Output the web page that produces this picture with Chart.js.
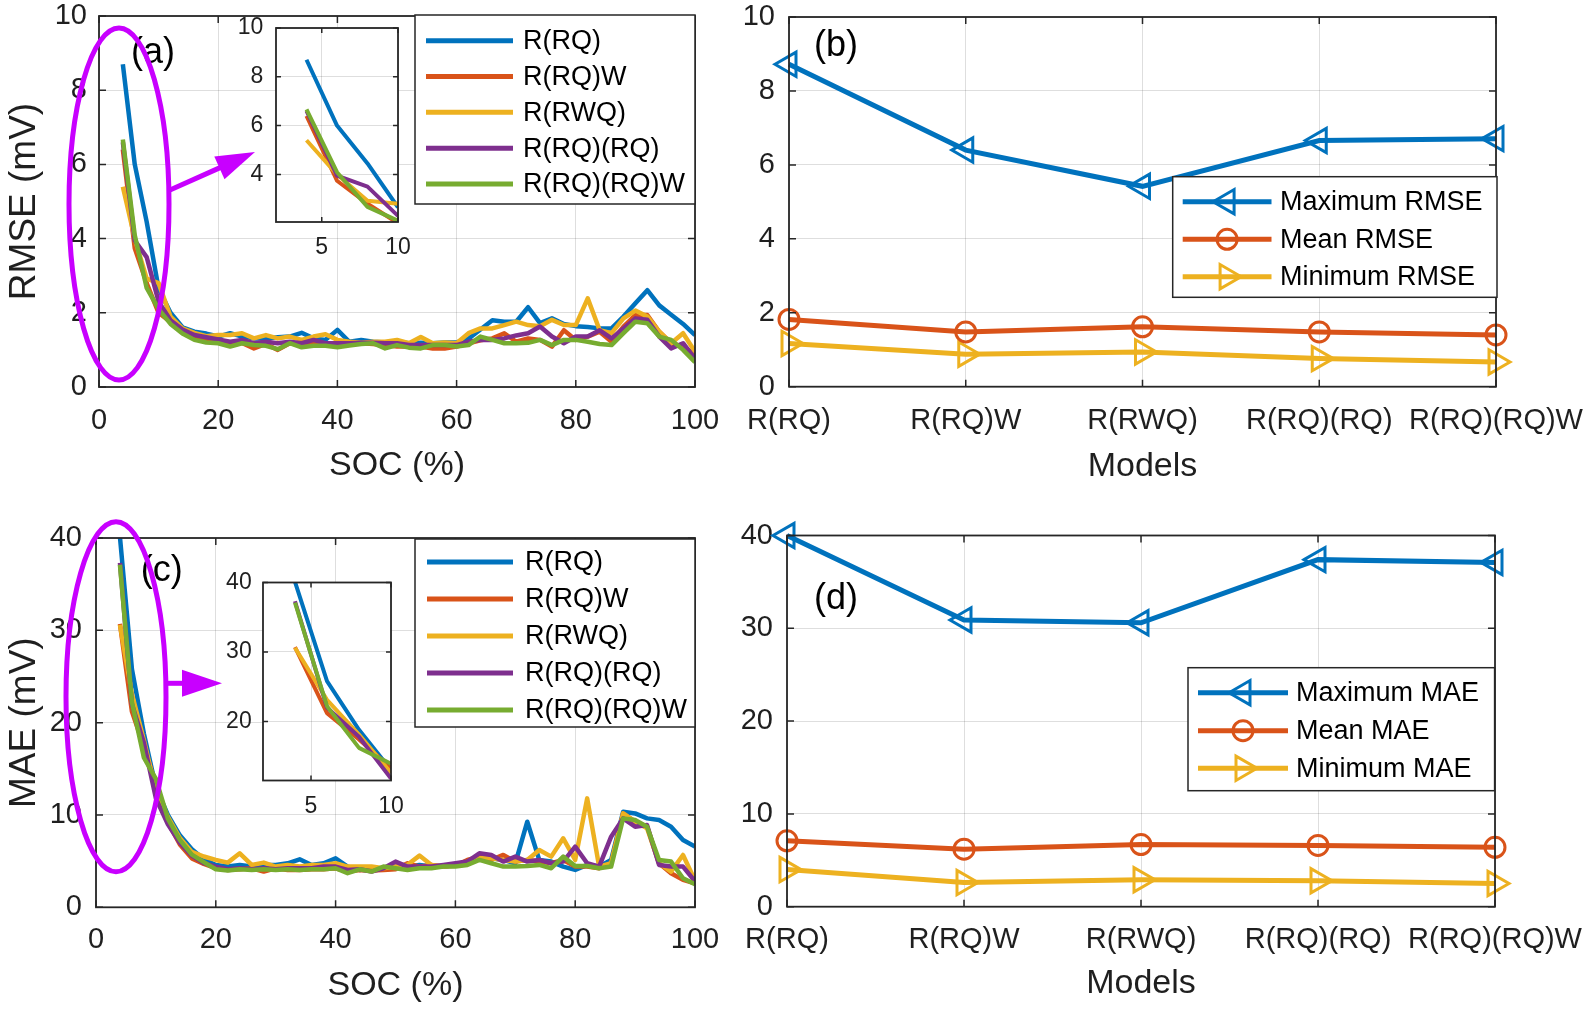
<!DOCTYPE html>
<html><head><meta charset="utf-8">
<script src="https://cdn.jsdelivr.net/npm/chart.js@4/dist/chart.umd.min.js"></script>
<style>
html,body{margin:0;padding:0;background:#fff;}
#wrap{position:relative;width:1594px;height:1010px;overflow:hidden;background:#fff;}
canvas{position:absolute;}
</style></head><body><div id="wrap"></div>
<script>
// ---------------- DATA ----------------
const soc = [4,6,8,10,12,14,16,18,20,22,24,26,28,30,32,34,36,38,40,42,44,46,48,50,52,54,56,58,60,62,64,66,68,70,72,74,76,78,80,82,84,86,88,90,92,94,96,98,100];
const seriesNames = ['R(RQ)','R(RQ)W','R(RWQ)','R(RQ)(RQ)','R(RQ)(RQ)W'];
const models = ['R(RQ)','R(RQ)W','R(RWQ)','R(RQ)(RQ)','R(RQ)(RQ)W'];

const rmse_RQ = [8.70,6.00,4.45,2.65,2.00,1.61,1.49,1.44,1.36,1.45,
 1.36,1.31,1.31,1.34,1.36,1.46,1.31,1.27,1.54,1.22,
 1.27,1.22,1.20,1.22,1.18,1.19,1.18,1.20,1.20,1.30,
 1.55,1.80,1.76,1.76,2.15,1.72,1.85,1.70,1.64,1.62,
 1.58,1.58,1.90,2.26,2.61,2.20,1.95,1.70,1.40];
const rmse_RQW = [6.40,3.74,2.80,2.00,1.75,1.49,1.31,1.27,1.25,1.18,
 1.19,1.04,1.16,1.00,1.18,1.13,1.19,1.13,1.13,1.18,
 1.18,1.16,1.13,1.09,1.09,1.09,1.04,1.04,1.09,1.18,
 1.26,1.31,1.45,1.22,1.31,1.27,1.09,1.53,1.27,1.36,
 1.49,1.22,1.63,1.94,1.94,1.49,1.18,1.09,0.88];
const rmse_RWQ = [5.40,4.00,2.92,2.80,1.90,1.58,1.46,1.37,1.40,1.40,
 1.45,1.31,1.40,1.31,1.36,1.27,1.36,1.42,1.27,1.22,
 1.19,1.22,1.22,1.27,1.18,1.35,1.18,1.20,1.18,1.45,
 1.58,1.58,1.67,1.76,1.67,1.64,1.81,1.67,1.67,2.39,
 1.53,1.45,1.85,2.06,1.90,1.49,1.18,1.45,0.95];
const rmse_RQRQ = [6.60,3.95,3.50,2.30,1.80,1.55,1.40,1.34,1.28,1.22,
 1.27,1.18,1.22,1.18,1.22,1.18,1.27,1.18,1.18,1.18,
 1.19,1.19,1.18,1.18,1.13,1.13,1.13,1.13,1.13,1.22,
 1.27,1.27,1.31,1.39,1.45,1.63,1.36,1.18,1.36,1.36,
 1.53,1.31,1.58,1.85,1.81,1.36,1.04,1.18,0.76];
const rmse_RQRQW = [6.67,4.09,2.67,2.10,1.70,1.44,1.27,1.20,1.18,1.09,
 1.18,1.13,1.11,1.02,1.18,1.07,1.11,1.11,1.07,1.12,
 1.16,1.18,1.04,1.13,1.06,1.04,1.13,1.13,1.09,1.13,
 1.36,1.27,1.18,1.18,1.19,1.27,1.13,1.27,1.27,1.22,
 1.16,1.13,1.45,1.76,1.72,1.36,1.27,1.00,0.67];

const mae_RQ = [40.1,25.8,18.8,13.0,10.0,7.8,6.3,5.2,4.59,4.41,
 4.59,4.41,4.59,4.59,4.77,5.20,4.59,4.77,5.31,4.41,
 4.05,4.23,4.23,4.41,4.41,4.59,4.41,4.41,4.59,4.77,
 5.49,5.31,5.13,4.77,9.27,5.13,4.95,4.41,4.05,4.59,
 4.41,5.13,10.35,10.17,9.63,9.45,8.73,7.29,6.57];
const mae_RQW = [30.7,21.2,17.4,13.3,9.2,6.8,5.3,4.7,4.23,4.05,
 4.12,4.23,3.87,4.23,4.05,4.05,4.12,4.12,4.23,3.87,
 4.05,3.98,4.05,4.12,4.77,4.40,4.59,4.41,4.50,5.13,
 5.49,5.13,5.67,4.95,5.13,4.95,4.77,5.13,4.41,4.41,
 4.23,4.77,10.17,9.27,8.73,4.77,3.69,2.97,2.60];
const mae_RWQ = [30.6,23.1,18.1,12.6,9.8,7.5,6.0,5.5,5.13,4.84,
 5.85,4.59,4.84,4.41,4.59,4.41,4.59,4.59,4.77,4.41,
 4.41,4.41,4.23,4.41,4.60,5.60,4.59,4.41,4.59,4.77,
 5.31,5.31,5.13,4.95,5.13,6.21,5.49,7.47,5.13,11.8,
 4.41,4.77,10.17,9.27,8.55,4.77,3.87,5.67,2.90];
const mae_RQRQ = [37.3,22.0,17.8,11.8,9.0,7.0,5.6,4.8,4.41,4.12,
 4.23,4.12,4.23,4.12,4.23,4.23,4.23,4.41,4.41,4.05,
 4.12,3.87,4.23,4.95,4.41,4.41,4.41,4.59,4.77,4.95,
 5.85,5.67,4.95,5.49,4.95,5.13,4.77,4.95,6.57,4.77,
 4.41,7.65,9.63,8.73,8.91,4.59,4.41,4.41,2.80];
const mae_RQRQW = [37.1,22.2,16.2,13.9,9.6,7.3,5.7,4.9,4.12,3.98,
 4.12,4.05,4.12,4.05,4.12,4.05,4.12,4.12,4.23,3.69,
 4.12,3.87,4.41,4.23,4.05,4.23,4.23,4.41,4.41,4.59,
 5.13,4.77,4.41,4.41,4.48,4.59,4.23,5.49,4.48,4.48,
 4.23,4.41,9.63,9.45,8.73,5.13,4.95,3.15,2.50];

const maxRMSE  = [8.72, 6.40, 5.42, 6.66, 6.71];
const meanRMSE = [1.82, 1.48, 1.62, 1.48, 1.40];
const minRMSE  = [1.17, 0.88, 0.94, 0.76, 0.67];
const maxMAE   = [40.0, 30.9, 30.6, 37.4, 37.1];
const meanMAE  = [7.1, 6.2, 6.7, 6.6, 6.4];
const minMAE   = [4.0, 2.6, 2.9, 2.8, 2.5];

const socTicks = [0,20,40,60,80,100];
const rmseTicks = [0,2,4,6,8,10];
const maeTicks = [0,10,20,30,40];
const insetSocTicks = [5,10];
const insetRmseTicks = [4,6,8,10];
const insetMaeTicks = [20,30,40];

// ---------------- STYLE ----------------
const colors = ['#0072BD','#D95319','#EDB120','#7E2F8E','#77AC30'];
const FONT = "'Liberation Sans', Arial, Helvetica, sans-serif";
const TXT = '#1f1f1f';
const GRID = 'rgba(0,0,0,0.13)';
const AXC = '#262626';
const MAG = '#C800FF';
Chart.defaults.font.family = FONT;
Chart.defaults.color = TXT;

function mk(left, top, w, h){
  const c = document.createElement('canvas');
  c.width = w; c.height = h;
  c.style.left = left+'px'; c.style.top = top+'px';
  c.style.width = w+'px'; c.style.height = h+'px';
  document.getElementById('wrap').appendChild(c);
  return c;
}

function drawMarker(ctx, style, rot, r, x, y){
  ctx.beginPath();
  if (style === 'circle') { ctx.arc(x, y, r, 0, Math.PI*2); }
  else {
    let rad = rot*Math.PI/180;
    ctx.moveTo(x + Math.sin(rad)*r, y - Math.cos(rad)*r);
    rad += 2*Math.PI/3; ctx.lineTo(x + Math.sin(rad)*r, y - Math.cos(rad)*r);
    rad += 2*Math.PI/3; ctx.lineTo(x + Math.sin(rad)*r, y - Math.cos(rad)*r);
    ctx.closePath();
  }
  ctx.stroke();
}

function drawLegend(chart, L){
  const ctx = chart.ctx;
  ctx.save();
  ctx.fillStyle = '#fff'; ctx.fillRect(L.x, L.y, L.w, L.h);
  ctx.strokeStyle = AXC; ctx.lineWidth = 1.5; ctx.strokeRect(L.x, L.y, L.w, L.h);
  ctx.font = L.fs + 'px ' + FONT; ctx.textBaseline = 'middle'; ctx.textAlign = 'left';
  chart.data.datasets.forEach((ds, i) => {
    const y = L.rows[i];
    ctx.strokeStyle = ds.borderColor; ctx.lineWidth = L.lw; ctx.lineCap = 'butt';
    ctx.beginPath(); ctx.moveTo(L.x0, y); ctx.lineTo(L.x1, y); ctx.stroke();
    if (ds.pointRadius > 0) {
      ctx.lineWidth = ds.pointBorderWidth;
      drawMarker(ctx, ds.pointStyle, ds.pointRotation || 0, ds.pointRadius, (L.x0+L.x1)/2, y);
    }
    ctx.fillStyle = '#000'; ctx.fillText(ds.label, L.tx, y + 1);
  });
  ctx.restore();
}

function arrow(ctx, a){
  const dx = a.x1-a.x0, dy = a.y1-a.y0, len = Math.hypot(dx,dy), ux = dx/len, uy = dy/len;
  const bx = a.x1 - ux*a.head, by = a.y1 - uy*a.head;
  ctx.strokeStyle = MAG; ctx.lineWidth = a.lw;
  ctx.beginPath(); ctx.moveTo(a.x0, a.y0); ctx.lineTo(bx + ux*2, by + uy*2); ctx.stroke();
  ctx.fillStyle = MAG; ctx.beginPath();
  ctx.moveTo(a.x1, a.y1);
  ctx.lineTo(bx - uy*a.half, by + ux*a.half);
  ctx.lineTo(bx + uy*a.half, by - ux*a.half);
  ctx.closePath(); ctx.fill();
}

function makeFrame(cfg){
  return {
    id: 'frame',
    beforeDraw(chart){
      if (!cfg.fill) return;
      const {ctx, chartArea: a} = chart;
      ctx.save(); ctx.fillStyle = '#fff';
      ctx.fillRect(a.left, a.top, a.right-a.left, a.bottom-a.top);
      ctx.restore();
    },
    afterDraw(chart){
      const {ctx, chartArea: a, scales} = chart;
      ctx.save();
      ctx.strokeStyle = AXC; ctx.lineWidth = 1.5;
      const tl = cfg.tick;
      const xs = scales.x, ys = scales.y;
      ctx.beginPath();
      xs.ticks.forEach((t,i) => { const p = xs.getPixelForTick(i);
        ctx.moveTo(p, a.bottom); ctx.lineTo(p, a.bottom - tl);
        ctx.moveTo(p, a.top); ctx.lineTo(p, a.top + tl); });
      ys.ticks.forEach((t,i) => { const p = ys.getPixelForTick(i);
        ctx.moveTo(a.left, p); ctx.lineTo(a.left + tl, p);
        ctx.moveTo(a.right, p); ctx.lineTo(a.right - tl, p); });
      ctx.stroke();
      ctx.lineWidth = 1.8;
      ctx.strokeRect(a.left, a.top, a.right-a.left, a.bottom-a.top);
      if (cfg.legend) drawLegend(chart, cfg.legend);
      (cfg.texts || []).forEach(t => {
        ctx.fillStyle = '#000'; ctx.font = t.fs + 'px ' + FONT;
        ctx.textAlign = 'center'; ctx.textBaseline = 'middle';
        ctx.fillText(t.t, t.x, t.y);
      });
      if (cfg.ellipse) {
        const e = cfg.ellipse;
        ctx.strokeStyle = MAG; ctx.lineWidth = 5;
        ctx.beginPath(); ctx.ellipse(e.cx, e.cy, e.rx, e.ry, 0, 0, Math.PI*2); ctx.stroke();
      }
      if (cfg.arrow) arrow(ctx, cfg.arrow);
      ctx.restore();
    }
  };
}

function zeroPad(s){ s.paddingLeft = 0; s.paddingRight = 0; s.paddingTop = 0; s.paddingBottom = 0; }

function linAxis(o){
  const isX = o.axis === 'x';
  return {
    type: 'linear', position: isX ? 'bottom' : 'left', min: o.min, max: o.max,
    afterBuildTicks: s => { s.ticks = o.ticks.map(v => ({value: v})); },
    afterFit: s => { if (isX) s.height = o.size; else s.width = o.size; zeroPad(s); },
    grid: {color: GRID, lineWidth: 1, drawTicks: false},
    border: {display: false},
    ticks: {color: TXT, font: {family: FONT, size: o.fs, lineHeight: 1}, padding: o.pad,
            autoSkip: false, maxRotation: 0, minRotation: 0, callback: v => String(v)},
    title: o.title ? {display: true, text: o.title, color: TXT,
            font: {family: FONT, size: o.tfs || 34, lineHeight: 1.2},
            padding: isX ? {top: 0, bottom: o.tpad} : {top: o.tpad, bottom: 0}} : {display: false}
  };
}

function catAxis(o){
  return {
    type: 'category', labels: models, offset: false, position: 'bottom',
    afterFit: s => { s.height = o.size; zeroPad(s); },
    grid: {color: GRID, lineWidth: 1, drawTicks: false, offset: false},
    border: {display: false},
    ticks: {color: TXT, font: {family: FONT, size: 29, lineHeight: 1}, padding: o.pad,
            autoSkip: false, maxRotation: 0, minRotation: 0},
    title: {display: true, text: 'Models', color: TXT, font: {family: FONT, size: 34, lineHeight: 1.2},
            padding: {top: 0, bottom: o.tpad}}
  };
}

function curveSets(series, lw){
  return series.map((vals, i) => ({
    label: seriesNames[i],
    data: soc.map((s, j) => ({x: s, y: vals[j]})),
    borderColor: colors[i], backgroundColor: colors[i],
    borderWidth: lw, pointRadius: 0, tension: 0, fill: false, order: 5 - i,
    borderJoinStyle: 'round'
  }));
}

function statSets(maxA, meanA, minA, kind){
  const mkds = (label, data, color, style, rot, r) => ({
    label, data, borderColor: color, backgroundColor: color,
    borderWidth: 5, pointStyle: style, pointRotation: rot, pointRadius: r,
    pointBorderWidth: 3, pointBackgroundColor: 'rgba(255,255,255,0)', pointBorderColor: color,
    tension: 0, fill: false, clip: false
  });
  return [
    mkds('Maximum ' + kind, maxA, colors[0], 'triangle', 270, 14),
    mkds('Mean ' + kind, meanA, colors[1], 'circle', 0, 10),
    mkds('Minimum ' + kind, minA, colors[2], 'triangle', 90, 14)
  ];
}

function baseOpts(pad, scales){
  return {
    responsive: false, animation: false, devicePixelRatio: 1, events: [],
    layout: {padding: pad},
    plugins: {legend: {display: false}, tooltip: {enabled: false}},
    scales
  };
}

// ---------- (a) RMSE vs SOC ----------
new Chart(mk(0, 0, 730, 500), {
  type: 'line',
  data: {datasets: curveSets([rmse_RQ, rmse_RQW, rmse_RWQ, rmse_RQRQ, rmse_RQRQW], 4.5)},
  options: baseOpts({top: 16, right: 35, left: 0, bottom: 0}, {
    x: linAxis({axis: 'x', min: 0, max: 100, ticks: socTicks, size: 113, fs: 29, pad: 19, title: 'SOC (%)', tpad: 13.6}),
    y: linAxis({axis: 'y', min: 0, max: 10, ticks: rmseTicks, size: 99, fs: 29, pad: 12, title: 'RMSE (mV)', tfs: 37, tpad: 3})
  }),
  plugins: [makeFrame({tick: 7,
    legend: {x: 415, y: 15, w: 280, h: 189, rows: [40.7, 76.5, 112.3, 148.2, 184], x0: 426, x1: 513, tx: 523, fs: 27, lw: 5},
    texts: [{t: '(a)', x: 153, y: 52.7, fs: 36}],
    ellipse: {cx: 119, cy: 204, rx: 50, ry: 176},
    arrow: {x0: 170, y0: 190, x1: 255, y1: 152, head: 39, half: 12.5, lw: 5}
  })]
});

// ---------- (b) RMSE stats ----------
new Chart(mk(700, 0, 894, 500), {
  type: 'line',
  data: {labels: models, datasets: statSets(maxRMSE, meanRMSE, minRMSE, 'RMSE')},
  options: baseOpts({top: 15, right: 98, left: 0, bottom: 0}, {
    x: catAxis({size: 113.3, pad: 20, tpad: 12.6}),
    y: linAxis({axis: 'y', min: 0, max: 10, ticks: rmseTicks, size: 89, fs: 29, pad: 14})
  }),
  plugins: [makeFrame({tick: 7,
    legend: {x: 472.7, y: 176.7, w: 324.3, h: 120.6, rows: [201.7, 239.3, 276.7], x0: 482.7, x1: 571.5, tx: 580, fs: 27, lw: 5},
    texts: [{t: '(b)', x: 136, y: 45.7, fs: 36}]
  })]
});

// ---------- (c) MAE vs SOC ----------
new Chart(mk(0, 500, 730, 510), {
  type: 'line',
  data: {datasets: curveSets([mae_RQ, mae_RQW, mae_RWQ, mae_RQRQ, mae_RQRQW], 4.5)},
  options: baseOpts({top: 38, right: 35, left: 0, bottom: 0}, {
    x: linAxis({axis: 'x', min: 0, max: 100, ticks: socTicks, size: 102.7, fs: 29, pad: 18.6, title: 'SOC (%)', tpad: 3.6}),
    y: linAxis({axis: 'y', min: 0, max: 40, ticks: maeTicks, size: 96, fs: 29, pad: 14, title: 'MAE (mV)', tfs: 37, tpad: 3})
  }),
  plugins: [makeFrame({tick: 7,
    legend: {x: 415, y: 39, w: 280, h: 188, rows: [62, 99, 136, 173, 210], x0: 427, x1: 513, tx: 525, fs: 27, lw: 5},
    texts: [{t: '(c)', x: 161.7, y: 71, fs: 36}],
    ellipse: {cx: 116, cy: 196.7, rx: 50, ry: 175},
    arrow: {x0: 166, y0: 183.3, x1: 222, y1: 183.3, head: 40, half: 13.5, lw: 5}
  })]
});

// ---------- (d) MAE stats ----------
new Chart(mk(700, 500, 894, 510), {
  type: 'line',
  data: {labels: models, datasets: statSets(maxMAE, meanMAE, minMAE, 'MAE')},
  options: baseOpts({top: 35.5, right: 99, left: 0, bottom: 0}, {
    x: catAxis({size: 103.3, pad: 18.8, tpad: 5.6}),
    y: linAxis({axis: 'y', min: 0, max: 40, ticks: maeTicks, size: 87, fs: 29, pad: 14})
  }),
  plugins: [makeFrame({tick: 7,
    legend: {x: 488, y: 167.7, w: 306.6, h: 123, rows: [192.7, 230.7, 268.3], x0: 498, x1: 588, tx: 596, fs: 27, lw: 5},
    texts: [{t: '(d)', x: 136, y: 99, fs: 36}]
  })]
});

// ---------- inset of (a) ----------
new Chart(mk(190, 0, 230, 270), {
  type: 'line',
  data: {datasets: curveSets([rmse_RQ, rmse_RQW, rmse_RWQ, rmse_RQRQ, rmse_RQRQW], 4)},
  options: baseOpts({top: 28, right: 22, left: 0, bottom: 0}, {
    x: linAxis({axis: 'x', min: 2, max: 10, ticks: insetSocTicks, size: 48, fs: 23, pad: 14.5}),
    y: linAxis({axis: 'y', min: 2.05, max: 10, ticks: insetRmseTicks, size: 86, fs: 23, pad: 12.7})
  }),
  plugins: [makeFrame({tick: 5, fill: true})]
});

// ---------- inset of (c) ----------
new Chart(mk(180, 540, 240, 300), {
  type: 'line',
  data: {datasets: curveSets([mae_RQ, mae_RQW, mae_RWQ, mae_RQRQ, mae_RQRQW], 4)},
  options: baseOpts({top: 42.5, right: 29, left: 0, bottom: 0}, {
    x: linAxis({axis: 'x', min: 2, max: 10, ticks: insetSocTicks, size: 59.5, fs: 23, pad: 14.7}),
    y: linAxis({axis: 'y', min: 11.5, max: 40, ticks: insetMaeTicks, size: 83, fs: 23, pad: 11.3})
  }),
  plugins: [makeFrame({tick: 5, fill: true})]
});
</script>
</body></html>
